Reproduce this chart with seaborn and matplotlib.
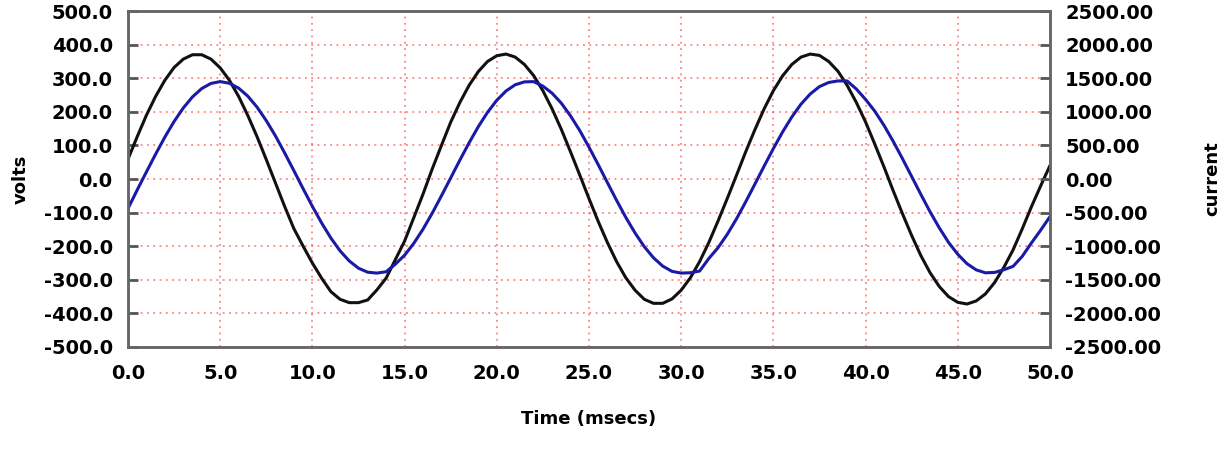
import numpy as np
import pandas as pd
import matplotlib
matplotlib.use("Agg")
import matplotlib.pyplot as plt
import seaborn as sns

# time axis in msecs, one reading every half ms
time_ms = [i * 0.5 for i in range(101)]

# voltage trace (left axis, volts)
volts = [59, 126, 190, 246, 294, 332, 357, 370, 370, 357,
         331, 294, 246, 189, 126, 58, -12, -82, -148, -200,
         -250, -295, -335, -358, -368, -368, -360, -330, -295, -240,
         -185, -115, -45, 30, 100, 169, 228, 279, 320, 350,
         367, 372, 363, 341, 308, 263, 209, 148, 81, 12,
         -58, -126, -189, -246, -294, -331, -358, -370, -370, -357,
         -331, -294, -246, -189, -125, -58, 11, 81, 147, 209,
         263, 307, 341, 363, 372, 368, 350, 321, 279, 228,
         170, 104, 36, -35, -103, -168, -228, -279, -320, -350,
         -367, -372, -363, -342, -308, -263, -211, -148, -82, -20,
         40]

# current trace (right axis, amps)
current = [-440, -163, 106, 371, 624, 856, 1058, 1223, 1347, 1423,
           1450, 1426, 1353, 1233, 1070, 869, 641, 387, 123, -145,
           -407, -653, -877, -1068, -1219, -1327, -1387, -1400, -1380, -1267,
           -1134, -957, -747, -508, -250, 16, 282, 539, 780, 993,
           1172, 1310, 1403, 1446, 1450, 1383, 1278, 1129, 940, 722,
           475, 215, -53, -318, -572, -803, -1007, -1172, -1296, -1374,
           -1400, -1395, -1370, -1183, -1022, -823, -593, -340, -75, 192,
           453, 700, 923, 1115, 1266, 1376, 1437, 1460, 1460, 1340,
           1185, 1010, 799, 561, 304, 38, -229, -489, -727, -943,
           -1119, -1260, -1352, -1396, -1390, -1350, -1300, -1150, -950, -760,
           -560]

volt_ticks = [-500, -400, -300, -200, -100, 0, 100, 200, 300, 400, 500]
amp_ticks = [-2500, -2000, -1500, -1000, -500, 0, 500, 1000, 1500, 2000, 2500]
time_ticks = [0, 5, 10, 15, 20, 25, 30, 35, 40, 45, 50]

df = pd.DataFrame({"time": time_ms, "volts": volts, "current": current})

sns.set_style("white")
plt.rcParams["font.family"] = ["DejaVu Sans"]
plt.rcParams["font.weight"] = "bold"
plt.rcParams["text.color"] = "black"
plt.rcParams["axes.labelcolor"] = "black"
plt.rcParams["xtick.color"] = "black"
plt.rcParams["ytick.color"] = "black"

fig = plt.figure(figsize=(12.27, 4.61), dpi=100)
ax = fig.add_axes([0.1043, 0.2473, 0.7514, 0.7287])
ax2 = ax.twinx()

sns.lineplot(data=df, x="time", y="volts", ax=ax, color="#111111", linewidth=2.2)
sns.lineplot(data=df, x="time", y="current", ax=ax2, color="#1a1aa6", linewidth=2.2)

ax.set_xlim(0, 50)
ax.set_ylim(-500, 500)
ax2.set_ylim(-2500, 2500)
ax.set_xticks(time_ticks)
ax.set_yticks(volt_ticks)
ax2.set_yticks(amp_ticks)
fs = 14
ax.set_xticklabels([f"{t:.1f}" for t in time_ticks], fontsize=fs, fontweight="bold")
ax.set_yticklabels([f"{v:.1f}" for v in volt_ticks], fontsize=fs, fontweight="bold")
ax2.set_yticklabels([f"{a:.2f}" for a in amp_ticks], fontsize=fs, fontweight="bold")

# red dotted grid
for t in time_ticks[1:-1]:
    ax.axvline(t, color="#ff4040", linestyle=(0, (1, 2.5)), linewidth=1.3, alpha=0.65, zorder=0)
for v in volt_ticks[1:-1]:
    ax.axhline(v, color="#ff4040", linestyle=(0, (1, 2.5)), linewidth=1.3, alpha=0.65, zorder=0)

for a in (ax, ax2):
    a.tick_params(direction="in", length=7, width=2, color="#555555", pad=11)
    a.tick_params(axis="x", pad=12)
    for s in a.spines.values():
        s.set_color("#666666")
        s.set_linewidth(1.8)

ax.set_xlabel("Time (msecs)", fontsize=13, fontweight="bold", labelpad=20)
ax.set_ylabel("volts", fontsize=13, fontweight="bold", labelpad=10)
ax2.set_ylabel("current", fontsize=13, fontweight="bold", labelpad=30)

fig.savefig("out.png", dpi=100)
